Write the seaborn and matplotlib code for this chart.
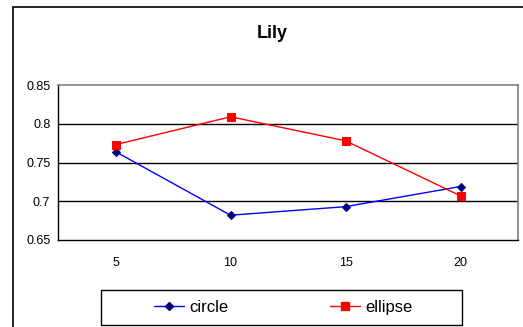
import matplotlib
matplotlib.use("Agg")
import matplotlib.pyplot as plt
import seaborn as sns
import pandas as pd
import numpy as np
from matplotlib.patches import Rectangle
from matplotlib.lines import Line2D

categories = ["5", "10", "15", "20"]
circle = [0.764, 0.682, 0.693, 0.719]
ellipse = [0.773, 0.809, 0.778, 0.707]
y_ticks = [0.65, 0.70, 0.75, 0.80, 0.85]
y_labels = ["0.65", "0.7", "0.75", "0.8", "0.85"]

sns.set_style("white")
plt.rcParams["font.family"] = ["Liberation Sans", "DejaVu Sans"]
plt.rcParams["text.color"] = "black"
plt.rcParams["xtick.color"] = "black"
plt.rcParams["ytick.color"] = "black"

df = pd.DataFrame({
    "pos": list(range(len(categories))) * 2,
    "value": circle + ellipse,
    "series": ["circle"] * len(circle) + ["ellipse"] * len(ellipse),
})

fig = plt.figure(figsize=(5.23, 3.27), dpi=100)
ax = fig.add_axes([58 / 523, 1 - 240 / 327, 460 / 523, 155 / 327])

sns.lineplot(data=df[df.series == "circle"], x="pos", y="value", ax=ax,
             color="#0000FF", lw=1, marker="D", markersize=4.5,
             markerfacecolor="#000080", markeredgecolor="#000080", legend=False)
sns.lineplot(data=df[df.series == "ellipse"], x="pos", y="value", ax=ax,
             color="#FF0000", lw=1, marker="s", markersize=5.5,
             markerfacecolor="#FF0000", markeredgecolor="#FF0000", legend=False)

ax.set_xlim(-0.5, len(categories) - 0.5)
ax.set_ylim(0.65, 0.85)
ax.set_yticks(y_ticks)
ax.set_yticklabels(y_labels)
ax.set_xticks(np.arange(-0.5, len(categories)))
ax.set_xticklabels([])
ax.set_xticks(range(len(categories)), minor=True)
ax.set_xticklabels(categories, minor=True)
ax.tick_params(axis="both", which="major", direction="out", length=3.5,
               width=1, color="black", labelcolor="black", labelsize=9, pad=2)
ax.tick_params(axis="x", which="minor", length=0, pad=12, labelsize=9,
               labelcolor="black")
ax.set_xlabel("")
ax.set_ylabel("")

for y in [0.70, 0.75, 0.80]:
    ax.axhline(y, color="black", lw=1, zorder=0)

for side in ["left", "bottom"]:
    ax.spines[side].set_color("black")
    ax.spines[side].set_linewidth(1)
for side in ["top", "right"]:
    ax.spines[side].set_color("#808080")
    ax.spines[side].set_linewidth(1.2)

# chart area frame (left and top edges visible)
fig.patches.append(Rectangle((13 / 523, -0.2), 1.2, 1 - 7 / 327 + 0.2,
                             transform=fig.transFigure, fill=False,
                             edgecolor="black", lw=1.2))

fig.text(272 / 523, 1 - 33 / 327, "Lily", ha="center", va="center",
         fontsize=13, fontweight="bold", color="black")

handles = [
    Line2D([], [], color="#0000FF", lw=1, marker="D", markersize=4.5,
           markerfacecolor="#000080", markeredgecolor="#000080"),
    Line2D([], [], color="#FF0000", lw=1, marker="s", markersize=5.5,
           markerfacecolor="#FF0000", markeredgecolor="#FF0000"),
]
leg = fig.legend(handles, ["circle", "ellipse"], ncol=2, loc="center",
                 bbox_to_anchor=(283 / 523, 1 - 307.5 / 327),
                 fontsize=12, frameon=False,
                 handlelength=1.8, handletextpad=0.3,
                 columnspacing=6.1, borderpad=0.0)

# legend box
fig.patches.append(Rectangle((101 / 523, 1 - 325 / 327), 361 / 523, 35 / 327,
                             transform=fig.transFigure, fill=False,
                             edgecolor="black", lw=1))

fig.savefig("out.png", dpi=100)
